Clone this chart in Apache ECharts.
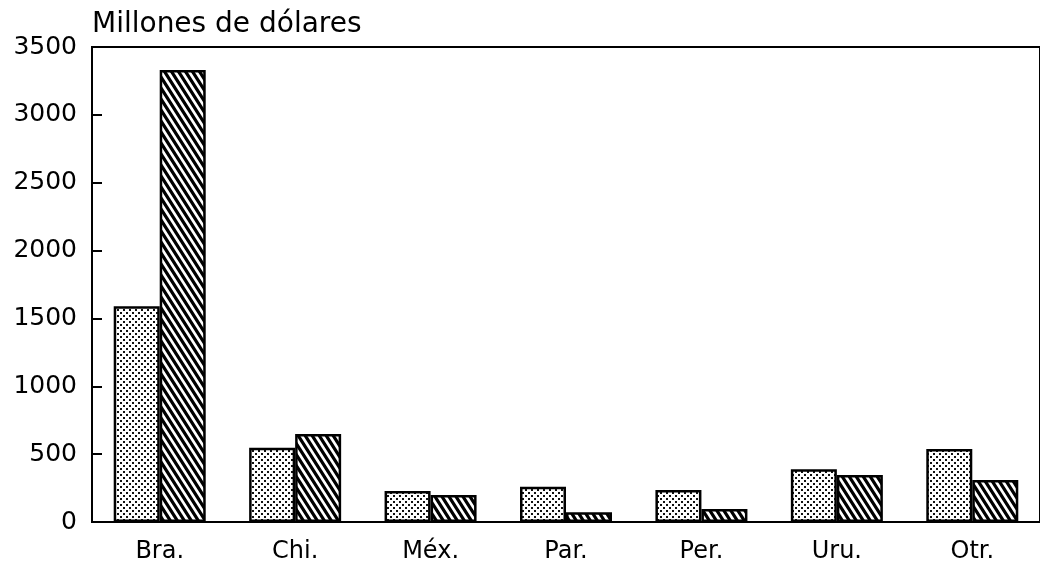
<!DOCTYPE html>
<html>
<head>
<meta charset="utf-8">
<title>Millones de dólares</title>
<script src="https://cdn.jsdelivr.net/npm/echarts@6.0.0/dist/echarts.min.js"></script>
<style>
    html, body { margin: 0; padding: 0; background: #fff; }
    #chart { width: 1040px; height: 573px; }
</style>
</head>
<body>
<div id="chart"></div>
<script>
// data
const categories = ['Bra.', 'Chi.', 'Méx.', 'Par.', 'Per.', 'Uru.', 'Otr.'];
const dottedValues = [1590, 548, 228, 260, 236, 388, 538];
const hatchedValues = [3330, 648, 199, 71, 96, 346, 310];
const yTicks = [0, 500, 1000, 1500, 2000, 2500, 3000, 3500];

const FONT = 'DejaVu Sans';

function dotPattern() {
    let c = document.createElement('canvas');
    c.width = 6;
    c.height = 6;
    let ctx = c.getContext('2d');
    ctx.fillStyle = '#fff';
    ctx.fillRect(0, 0, 6, 6);
    ctx.fillStyle = '#111';
    ctx.fillRect(0, 0, 2, 2);
    ctx.fillRect(3, 3, 2, 2);
    return c;
}

function hatchPattern() {
    // steep "\" stripes
    let w = 7, h = 11;
    let c = document.createElement('canvas');
    c.width = w;
    c.height = h;
    let ctx = c.getContext('2d');
    ctx.fillStyle = '#fff';
    ctx.fillRect(0, 0, w, h);
    ctx.strokeStyle = '#000';
    ctx.lineWidth = 3.2;
    ctx.beginPath();
    for (let k = -1; k <= 1; k++) {
        ctx.moveTo(k * w - w, -h);
        ctx.lineTo(k * w + 2 * w, 2 * h);
    }
    ctx.stroke();
    return c;
}

let myChart = echarts.init(document.getElementById('chart'));

let option = {
    animation: false,
    backgroundColor: '#fff',
    title: {
        text: 'Millones de dólares',
        left: 87,
        top: 6,
        textStyle: {fontFamily: FONT, fontSize: 28, fontWeight: 'normal', color: '#000'}
    },
    grid: {
        left: 92,
        top: 47,
        width: 954,
        height: 475,
        show: true,
        borderColor: '#000',
        borderWidth: 2,
        backgroundColor: 'transparent'
    },
    xAxis: {
        type: 'category',
        data: categories,
        boundaryGap: true,
        axisLine: {lineStyle: {color: '#000', width: 2}},
        axisTick: {show: false},
        axisLabel: {fontFamily: FONT, fontSize: 24, color: '#000', margin: 18}
    },
    yAxis: {
        type: 'value',
        min: yTicks[0],
        max: yTicks[yTicks.length - 1],
        interval: 500,
        splitLine: {show: false},
        axisLine: {show: true, lineStyle: {color: '#000', width: 2}},
        axisTick: {show: true, inside: true, length: 10, lineStyle: {color: '#000', width: 2}},
        axisLabel: {
            fontFamily: FONT, fontSize: 25, color: '#000', margin: 15,
            padding: [8, 0, 0, 0],
            formatter: function (v) { return String(v); }
        }
    },
    series: [
        {
            type: 'bar',
            data: dottedValues,
            barWidth: 46,
            barGap: '0%',
            itemStyle: {
                color: {image: dotPattern(), repeat: 'repeat'},
                borderColor: '#000',
                borderWidth: 2.5
            }
        },
        {
            type: 'bar',
            data: hatchedValues,
            barWidth: 46,
            barGap: '0%',
            itemStyle: {
                color: {image: hatchPattern(), repeat: 'repeat'},
                borderColor: '#000',
                borderWidth: 2.5
            }
        }
    ]
};

myChart.setOption(option);
</script>
</body>
</html>
